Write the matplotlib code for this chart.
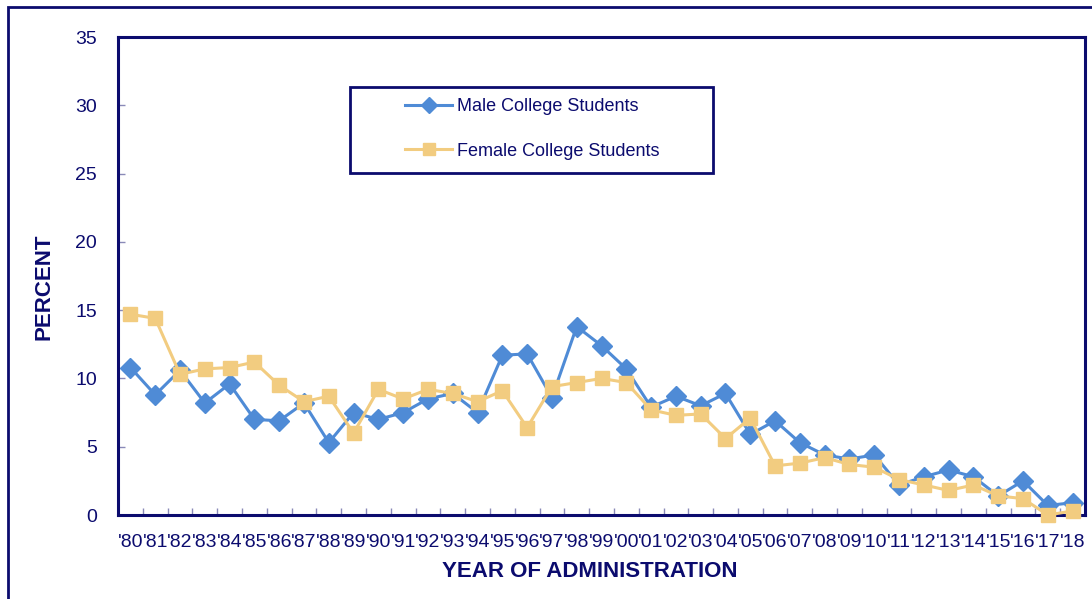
import matplotlib
matplotlib.use("Agg")
import matplotlib.pyplot as plt
from matplotlib.patches import Rectangle
from matplotlib.ticker import FixedLocator

# Survey years (tick labels) and percentages
years = ["'80", "'81", "'82", "'83", "'84", "'85", "'86", "'87", "'88", "'89",
         "'90", "'91", "'92", "'93", "'94", "'95", "'96", "'97", "'98", "'99",
         "'00", "'01", "'02", "'03", "'04", "'05", "'06", "'07", "'08", "'09",
         "'10", "'11", "'12", "'13", "'14", "'15", "'16", "'17", "'18"]
male = [10.8, 8.8, 10.6, 8.2, 9.6, 7.0, 6.9, 8.2, 5.3, 7.5,
        7.0, 7.5, 8.5, 8.9, 7.5, 11.7, 11.8, 8.6, 13.8, 12.4,
        10.7, 7.9, 8.7, 8.0, 8.9, 5.9, 6.9, 5.3, 4.4, 4.1,
        4.4, 2.2, 2.8, 3.3, 2.8, 1.4, 2.5, 0.7, 0.9]
female = [14.7, 14.4, 10.3, 10.7, 10.8, 11.2, 9.5, 8.3, 8.7, 6.0,
          9.2, 8.5, 9.2, 8.9, 8.3, 9.1, 6.4, 9.4, 9.7, 10.0,
          9.7, 7.7, 7.3, 7.4, 5.6, 7.1, 3.6, 3.8, 4.2, 3.7,
          3.5, 2.6, 2.2, 1.8, 2.2, 1.4, 1.2, 0.0, 0.3]

navy = "#0b0b6e"
tick_col = "#8a8ab8"
blue = "#4f8bd6"
gold = "#f2cc80"

plt.rcParams["font.family"] = ["Liberation Sans", "DejaVu Sans"]

fig = plt.figure(figsize=(10.92, 5.99), dpi=100)
ax = fig.add_axes([0.1081, 0.1402, 0.8855, 0.798])

x = list(range(len(years)))
ax.plot(x, male, color=blue, lw=2.2, marker="D", ms=10, mec=blue, mfc=blue,
        label="Male College Students", zorder=3, clip_on=False)
ax.plot(x, female, color=gold, lw=2.2, marker="s", ms=10.5, mec=gold, mfc=gold,
        label="Female College Students", zorder=4, clip_on=False)

ax.set_xlim(-0.5, len(years) - 0.5)
ax.set_ylim(0, 35)
ax.set_yticks(range(0, 36, 5))
ax.set_xticks(x)
ax.set_xticklabels(years)
ax.xaxis.set_minor_locator(FixedLocator([i + 0.5 for i in range(len(years) - 1)]))

ax.tick_params(axis="x", which="major", length=0, pad=14, labelsize=14, labelcolor=navy)
ax.tick_params(axis="x", which="minor", direction="in", length=5, color=tick_col, width=1)
ax.tick_params(axis="y", direction="in", length=5, color=tick_col, width=1,
               pad=15, labelsize=14, labelcolor=navy)

for s in ax.spines.values():
    s.set_color(navy)
    s.set_linewidth(2.2)

ax.set_xlabel("YEAR OF ADMINISTRATION", fontsize=16, fontweight="bold", color=navy)
ax.xaxis.label.set_va("center")
ax.xaxis.set_label_coords(0.488, -0.119)
ax.set_ylabel("PERCENT", fontsize=16, fontweight="bold", color=navy)
ax.yaxis.label.set_va("center")
ax.yaxis.set_label_coords(-0.0766, 0.477)

leg = ax.legend(loc="center left", bbox_to_anchor=(0.2968, 0.8075), frameon=False,
                fontsize=13, labelcolor=navy, borderpad=0, borderaxespad=0,
                labelspacing=1.5, handlelength=2.6, handletextpad=0.3,
                markerscale=0.85)
for t in leg.get_texts():
    t.set_color(navy)
ax.add_patch(Rectangle((0.2399, 0.7155), 0.3754, 0.18, transform=ax.transAxes,
                       fill=False, edgecolor=navy, linewidth=2, zorder=5))

# outer border of the chart area, running off the right and bottom edges
fig.patches.append(Rectangle((8 / 1092, -0.1), 1.2, 1 - 7 / 599 + 0.1,
                             transform=fig.transFigure, fill=False,
                             edgecolor=navy, linewidth=2, zorder=0))

fig.savefig("out.png", dpi=100)
